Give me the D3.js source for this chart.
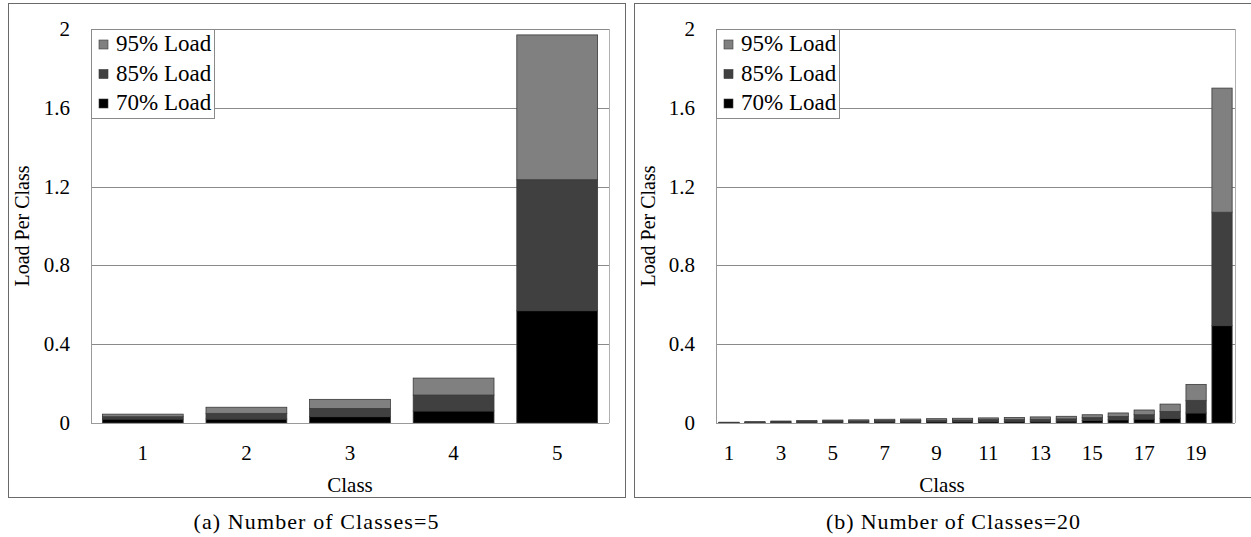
<!DOCTYPE html>
<html>
<head>
<meta charset="utf-8">
<script src="https://cdn.jsdelivr.net/npm/d3@7"></script>
<style>
  body { margin: 0; background: #fff; }
  svg { display: block; }
  svg text { font-family: "Times New Roman", "Liberation Serif", Times, serif; }
</style>
</head>
<body>
<svg id="chart" width="1251" height="537"></svg>
<script>
// series names, bottom to top of each stack
const seriesNames = ["70% Load", "85% Load", "95% Load"];
const seriesColors = ["#000000", "#404040", "#808080"];

// chart (a): 5 classes, stacked segment values
const classesA = ["1", "2", "3", "4", "5"];
const load70A = [0.020, 0.020, 0.032, 0.061, 0.570];
const load85A = [0.012, 0.029, 0.042, 0.081, 0.665];
const load95A = [0.013, 0.031, 0.046, 0.086, 0.735];

// chart (b): 20 classes
const classesB = ["1","2","3","4","5","6","7","8","9","10","11","12","13","14","15","16","17","18","19","20"];
const load70B = [0.001,0.002,0.003,0.004,0.005,0.005,0.006,0.006,0.007,0.007,0.008,0.008,0.009,0.010,0.013,0.016,0.020,0.024,0.051,0.494];
const load85B = [0.0015,0.002,0.003,0.004,0.005,0.005,0.006,0.007,0.007,0.008,0.009,0.009,0.010,0.011,0.014,0.017,0.022,0.035,0.064,0.576];
const load95B = [0.0015,0.003,0.004,0.005,0.005,0.006,0.007,0.007,0.008,0.009,0.009,0.011,0.012,0.013,0.015,0.018,0.024,0.037,0.081,0.630];

const yTicks = [0, 0.4, 0.8, 1.2, 1.6, 2];
const yTickLabels = ["0", "0.4", "0.8", "1.2", "1.6", "2"];

const svg = d3.select("#chart");

function drawChart(opts) {
  const { frame, plot, classes, series, xLabelEvery, classLabelX, caption, captionX, captionLen } = opts;
  const g = svg.append("g");

  // outer frame
  g.append("rect")
    .attr("x", frame.x + 0.5).attr("y", frame.y + 0.5)
    .attr("width", frame.w).attr("height", frame.h)
    .attr("fill", "none").attr("stroke", "#6a6a6a").attr("stroke-width", 1);

  const x = d3.scaleBand().domain(classes).range([plot.x0, plot.x1]).paddingInner(0.22).paddingOuter(0.11);
  const y = d3.scaleLinear().domain([0, 2]).range([plot.y1, plot.y0]);

  // gridlines
  g.append("g").selectAll("line").data(yTicks.slice(1)).join("line")
    .attr("x1", plot.x0).attr("x2", plot.x1)
    .attr("y1", d => Math.round(y(d)) + 0.5).attr("y2", d => Math.round(y(d)) + 0.5)
    .attr("stroke", "#8a8a8a").attr("stroke-width", 1);

  // plot border (left, right) and baseline
  g.append("line").attr("x1", plot.x0 + 0.5).attr("x2", plot.x0 + 0.5)
    .attr("y1", plot.y0).attr("y2", plot.y1).attr("stroke", "#9a9a9a");
  g.append("line").attr("x1", plot.x1 + 0.5).attr("x2", plot.x1 + 0.5)
    .attr("y1", plot.y0).attr("y2", plot.y1).attr("stroke", "#b0b0b0");

  // stacked bars
  const rows = classes.map((c, i) => {
    const r = { cls: c };
    seriesNames.forEach((s, k) => { r[s] = series[k][i]; });
    return r;
  });
  const stacked = d3.stack().keys(seriesNames)(rows);
  g.append("g").selectAll("g").data(stacked).join("g")
    .attr("fill", (d, k) => seriesColors[k])
    .selectAll("rect").data(d => d).join("rect")
      .attr("x", d => x(d.data.cls))
      .attr("width", x.bandwidth())
      .attr("y", d => y(d[1]))
      .attr("height", d => y(d[0]) - y(d[1]))
      .attr("stroke", "#3a3a3a").attr("stroke-width", 0.8);

  g.append("line").attr("x1", plot.x0).attr("x2", plot.x1)
    .attr("y1", plot.y1 + 0.5).attr("y2", plot.y1 + 0.5).attr("stroke", "#9a9a9a");

  // y tick labels
  g.append("g").selectAll("text").data(yTicks).join("text")
    .attr("x", plot.x0 - 21)
    .attr("y", d => y(d) + 7)
    .attr("text-anchor", "end")
    .attr("font-size", 21)
    .attr("fill", "#000")
    .text((d, i) => yTickLabels[i]);

  // x tick labels
  g.append("g").selectAll("text").data(classes.filter((c, i) => i % xLabelEvery === 0)).join("text")
    .attr("x", d => x(d) + x.bandwidth() / 2)
    .attr("y", 460)
    .attr("text-anchor", "middle")
    .attr("font-size", 21)
    .text(d => d);

  // axis titles
  g.append("text")
    .attr("x", classLabelX).attr("y", 492)
    .attr("text-anchor", "middle").attr("font-size", 21)
    .text("Class");
  g.append("text")
    .attr("transform", `translate(${frame.x + 21},${(plot.y0 + plot.y1) / 2}) rotate(-90)`)
    .attr("text-anchor", "middle").attr("font-size", 20)
    .text("Load Per Class");

  // legend
  const lg = g.append("g").attr("transform", `translate(${plot.x0},${plot.y0})`);
  lg.append("rect").attr("x", 0.5).attr("y", 0.5).attr("width", 123).attr("height", 89)
    .attr("fill", "#fff").attr("stroke", "#8a8a8a");
  const legendOrder = [2, 1, 0];
  legendOrder.forEach((k, j) => {
    const cy = 15 + j * 29.5;
    lg.append("rect").attr("x", 8).attr("y", cy - 4).attr("width", 9).attr("height", 9)
      .attr("fill", seriesColors[k]).attr("stroke", "#3a3a3a").attr("stroke-width", 0.6);
    lg.append("text").attr("x", 25).attr("y", cy + 7).attr("font-size", 23).text(seriesNames[k]);
  });

  // caption
  svg.append("text")
    .attr("x", captionX).attr("y", 529)
    .attr("text-anchor", "middle").attr("font-size", 22)
    .attr("textLength", captionLen).attr("lengthAdjust", "spacing")
    .text(caption);
}

drawChart({
  frame: { x: 8, y: 3, w: 617, h: 494 },
  plot: { x0: 91, x1: 609, y0: 29, y1: 423 },
  classes: classesA,
  series: [load70A, load85A, load95A],
  xLabelEvery: 1,
  classLabelX: 350,
  caption: "(a) Number of Classes=5",
  captionX: 316,
  captionLen: 245
});

drawChart({
  frame: { x: 634, y: 3, w: 630, h: 494 },
  plot: { x0: 716, x1: 1235, y0: 29, y1: 423 },
  classes: classesB,
  series: [load70B, load85B, load95B],
  xLabelEvery: 2,
  classLabelX: 942,
  caption: "(b) Number of Classes=20",
  captionX: 953,
  captionLen: 254
});
</script>
</body>
</html>
